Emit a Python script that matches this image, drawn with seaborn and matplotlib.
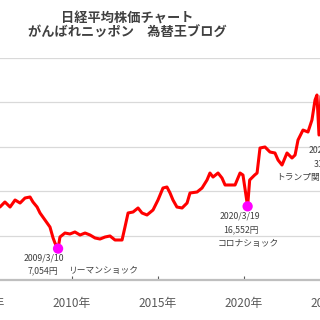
import matplotlib
matplotlib.use("Agg")
import matplotlib.pyplot as plt
import seaborn as sns
import pandas as pd

# ---- data ----
years = [2005.81, 2006.10, 2006.40, 2006.69, 2006.98, 2007.27, 2007.56, 2007.73, 2007.97,
         2008.14, 2008.43, 2008.72, 2008.90, 2009.01, 2009.19, 2009.30, 2009.59, 2009.88,
         2010.17, 2010.47, 2010.76, 2011.05, 2011.34, 2011.63, 2011.92, 2012.21, 2012.50,
         2012.91, 2013.08, 2013.26, 2013.55, 2013.84, 2014.07, 2014.36, 2014.71, 2015.00,
         2015.29, 2015.52, 2015.70, 2015.87, 2016.10, 2016.40, 2016.69, 2016.86, 2017.27,
         2017.56, 2017.85, 2018.02, 2018.20, 2018.49, 2018.72, 2018.90, 2019.19, 2019.48,
         2019.77, 2019.94, 2020.21, 2020.33, 2020.62, 2020.76, 2020.93, 2021.22, 2021.51,
         2021.80, 2021.98, 2022.21, 2022.50, 2022.79, 2022.97, 2023.14, 2023.43, 2023.72,
         2023.95, 2024.13, 2024.24, 2024.36, 2024.48, 2024.60]
prices = [16400, 17530, 16400, 17980, 17300, 18430, 18650, 17530, 16400,
          15060, 13480, 11900, 9440, 8310, 7054, 9660, 10560, 10340,
          10790, 10110, 10560, 10110, 9440, 9210, 9660, 9890, 8990,
          8990, 11900, 15060, 15280, 16180, 15060, 14610, 15730, 17980,
          20670, 20900, 19550, 17980, 16400, 16180, 17300, 19550, 19770,
          20670, 22470, 24040, 23140, 24040, 22920, 21350, 21350, 21350,
          24040, 23590, 16552, 22470, 23590, 24040, 29660, 29890, 28760,
          28540, 26960, 25840, 28540, 27410, 28090, 31460, 33700, 33260,
          35950, 40450, 41570, 32580, 41570, 38000]

event_years = [2009.19, 2020.21, 2025.27]
event_prices = [7054, 16552, 31136]
event_dates = ["2009/3/10", "2020/3/19", "2025/4/7"]
event_values = ["7,054円", "16,552円", "31,136円"]
event_names = ["リーマンショック", "コロナショック", "トランプ関税ショック"]

tick_years = [2005, 2010, 2015, 2020, 2025]
tick_labels = ["2005年", "2010年", "2015年", "2020年", "2025年"]
y_ticks = [0, 10000, 20000, 30000, 40000, 50000]

title1 = "日経平均株価チャート"
title2 = "がんばれニッポン　為替王ブログ"

# ---- style ----
sns.set_theme(style="white")
plt.rcParams['font.family'] = ['Noto Sans CJK JP', 'DejaVu Sans']

fig = plt.figure(figsize=(3.2, 3.2), dpi=100)
fig.patch.set_facecolor("white")

# axes wider than the picture (the reference is a crop)
px_left, px_right = -60, 380
x0 = 2010 + (px_left - 72) / 17.2
x1 = 2010 + (px_right - 72) / 17.2
ax = fig.add_axes([px_left / 320, 40 / 320, (px_right - px_left) / 320, 222.5 / 320])
ax.set_xlim(x0, x1)
ax.set_ylim(0, 50000)

df = pd.DataFrame({"year": years, "price": prices})
sns.lineplot(data=df, x="year", y="price", ax=ax, color="#ff0000", linewidth=2.2, zorder=3)

ev = pd.DataFrame({"year": event_years, "price": event_prices})
sns.scatterplot(data=ev, x="year", y="price", ax=ax, color="#ff00ff", s=55,
                edgecolor="none", zorder=4)

ax.set_yticks(y_ticks)
ax.yaxis.grid(True, color="#d9d9d9", linewidth=0.9)
ax.xaxis.grid(False)
ax.set_xticks(tick_years)
ax.set_xticklabels(tick_labels)
ax.tick_params(axis="x", direction="in", length=3, width=0.8, color="#595959",
               labelsize=8.5, labelcolor="#595959", pad=12, bottom=True)
ax.tick_params(axis="y", left=False, labelleft=False)
ax.set_xlabel("")
ax.set_ylabel("")
for s in ["top", "left", "right"]:
    ax.spines[s].set_visible(False)
ax.spines["bottom"].set_color("#bfbfbf")
ax.spines["bottom"].set_linewidth(1.6)

# annotations (offsets in pixels -> points)
px = 0.72
tc = "#404040"
fs = 6.3
offsets = [
    [(-14, -9, "center"), (-30, -22, "left"), (10, -22, "left")],
    [(-8, -10, "center"), (-7, -23, "center"), (1, -37, "center")],
    [(-26, -9, "left"), (-21, -22, "left"), (-58, -36, "left")],
]
for i in range(3):
    texts = [event_dates[i], event_values[i], event_names[i]]
    for t, (dx, dy, ha) in zip(texts, offsets[i]):
        ax.annotate(t, xy=(event_years[i], event_prices[i]), xytext=(dx * px, dy * px),
                    textcoords="offset points", ha=ha, va="center",
                    fontsize=fs, color=tc, annotation_clip=False)

fig.text(127 / 320, 1 - 18 / 320, title1, ha="center", va="center", fontsize=9.5,
         color="#404040", fontweight="bold")
fig.text(127 / 320, 1 - 33 / 320, title2, ha="center", va="center", fontsize=9.5,
         color="#404040", fontweight="bold")

fig.savefig("out.png", dpi=100, facecolor="white")
